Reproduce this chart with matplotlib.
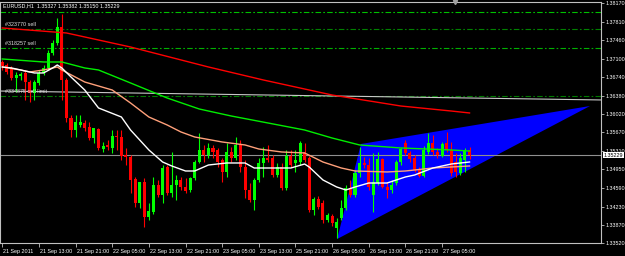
import matplotlib
matplotlib.use('Agg')
import matplotlib.pyplot as plt
import matplotlib.transforms as mtransforms
import numpy as np

plt.rcParams['font.family'] = ['Liberation Sans', 'DejaVu Sans']

header_text = "EURUSD,H1  1.35327 1.35382 1.35150 1.35229"

open_ = [1.37033, 1.36975, 1.36917, 1.36723, 1.36762, 1.36820, 1.36645, 1.36432, 1.36626, 1.36820,
         1.36917, 1.37207, 1.37401, 1.37711, 1.36684, 1.35948, 1.35715, 1.35812, 1.35851, 1.35773,
         1.35560, 1.35735, 1.35347, 1.35425, 1.35367, 1.35599, 1.35580, 1.35231, 1.35192, 1.34766,
         1.34301, 1.34708, 1.34030, 1.34127, 1.34650, 1.34456, 1.34998, 1.34495, 1.34650, 1.34747,
         1.34611, 1.34553, 1.34785, 1.35095, 1.35328, 1.35231, 1.35367, 1.35328, 1.35134, 1.34902,
         1.35289, 1.35173, 1.35425, 1.34998, 1.34553, 1.34359, 1.34747, 1.35076, 1.35173, 1.35173,
         1.34843, 1.34998, 1.34592, 1.35212, 1.35076, 1.35095, 1.35289, 1.35173, 1.34165, 1.34378,
         1.34301, 1.33972, 1.34049, 1.33817, 1.34010, 1.34204, 1.34592, 1.34456, 1.34882, 1.35076,
         1.35037, 1.34456, 1.34688, 1.35153, 1.34611, 1.34553, 1.34688, 1.35095, 1.35463, 1.35270,
         1.35173, 1.34940, 1.34824, 1.35289, 1.35463, 1.35289, 1.35212, 1.35463, 1.35328, 1.35095,
         1.34882, 1.35134, 1.35327]
high = [1.37072, 1.37013, 1.36955, 1.36839, 1.36839, 1.36878, 1.36684, 1.36684, 1.36878, 1.36975,
        1.37265, 1.37459, 1.37885, 1.37963, 1.36723, 1.36006, 1.36006, 1.36006, 1.35909, 1.35870,
        1.35715, 1.35754, 1.35483, 1.35522, 1.35715, 1.35715, 1.35715, 1.35367, 1.35231, 1.34805,
        1.34708, 1.34785, 1.34301, 1.34805, 1.34747, 1.35037, 1.35037, 1.35289, 1.34843, 1.34805,
        1.34785, 1.34805, 1.35134, 1.35657, 1.35425, 1.35463, 1.35425, 1.35367, 1.35173, 1.35463,
        1.35386, 1.35580, 1.35522, 1.35134, 1.34688, 1.34785, 1.35173, 1.35386, 1.35425, 1.35231,
        1.35076, 1.35076, 1.35328, 1.35328, 1.35328, 1.35502, 1.35463, 1.35212, 1.34417, 1.34437,
        1.34359, 1.34107, 1.34088, 1.34010, 1.34359, 1.34650, 1.34747, 1.34940, 1.35386, 1.35192,
        1.35173, 1.35270, 1.35289, 1.35173, 1.34708, 1.34747, 1.35134, 1.35367, 1.35522, 1.35308,
        1.35231, 1.34998, 1.35405, 1.35657, 1.35618, 1.35367, 1.35483, 1.35677, 1.35483, 1.35270,
        1.35270, 1.35367, 1.35382]
low = [1.36878, 1.36800, 1.36684, 1.36452, 1.36684, 1.36297, 1.36258, 1.36297, 1.36587, 1.36781,
       1.36878, 1.37168, 1.37362, 1.36297, 1.35870, 1.35580, 1.35580, 1.35773, 1.35696, 1.35522,
       1.35463, 1.35328, 1.35289, 1.35328, 1.35270, 1.35328, 1.35134, 1.35037, 1.34495, 1.34223,
       1.34204, 1.33836, 1.33972, 1.34088, 1.34417, 1.34301, 1.34456, 1.34417, 1.34359, 1.34553,
       1.34495, 1.34514, 1.34747, 1.35076, 1.35095, 1.35173, 1.35173, 1.34998, 1.34708, 1.34805,
       1.35095, 1.35134, 1.34902, 1.34398, 1.34320, 1.34165, 1.34708, 1.34805, 1.35095, 1.34805,
       1.34805, 1.34553, 1.34553, 1.34998, 1.34902, 1.35037, 1.35095, 1.34127, 1.34068, 1.34185,
       1.33913, 1.33933, 1.33855, 1.33623, 1.33972, 1.34165, 1.34417, 1.34417, 1.34805, 1.34979,
       1.34553, 1.34127, 1.34650, 1.34592, 1.34398, 1.34495, 1.34650, 1.35037, 1.35231, 1.35095,
       1.34902, 1.34805, 1.34805, 1.35250, 1.35231, 1.35173, 1.35192, 1.35289, 1.34824, 1.34805,
       1.34843, 1.34902, 1.35150]
close = [1.36955, 1.36839, 1.36723, 1.36781, 1.36800, 1.36645, 1.36432, 1.36645, 1.36820, 1.36917,
         1.37207, 1.37401, 1.37711, 1.36684, 1.35948, 1.35715, 1.35870, 1.35870, 1.35754, 1.35560,
         1.35754, 1.35367, 1.35405, 1.35386, 1.35599, 1.35580, 1.35212, 1.35192, 1.34747, 1.34301,
         1.34708, 1.34030, 1.34146, 1.34650, 1.34456, 1.34979, 1.34495, 1.34650, 1.34747, 1.34611,
         1.34533, 1.34785, 1.35095, 1.35328, 1.35231, 1.35367, 1.35289, 1.35095, 1.34902, 1.35289,
         1.35173, 1.35425, 1.34998, 1.34553, 1.34359, 1.34747, 1.35076, 1.35173, 1.35134, 1.34843,
         1.34998, 1.34592, 1.35212, 1.35037, 1.35134, 1.35463, 1.35134, 1.34165, 1.34378, 1.34223,
         1.33972, 1.34068, 1.33913, 1.33933, 1.34204, 1.34592, 1.34456, 1.34882, 1.35076, 1.35037,
         1.34611, 1.34708, 1.35153, 1.34611, 1.34553, 1.34650, 1.35095, 1.35347, 1.35270, 1.35153,
         1.34940, 1.34824, 1.35328, 1.35463, 1.35289, 1.35231, 1.35444, 1.35328, 1.34882, 1.34902,
         1.35173, 1.35328, 1.35229]

# moving averages (bar index, price)
ma_red_idx = [0, 14, 28, 45, 57, 72, 87, 98, 102]
ma_red = [1.37692, 1.37595, 1.37323, 1.36936, 1.36684, 1.36393, 1.36180, 1.36083, 1.36045]
ma_green_idx = [0, 9, 13, 18, 21, 28, 36, 43, 50, 58, 66, 72, 78, 87, 98, 102]
ma_green = [1.37091, 1.37033, 1.37033, 1.36917, 1.36878, 1.36626, 1.36335, 1.36122, 1.35986,
            1.35851, 1.35715, 1.35560, 1.35425, 1.35367, 1.35328, 1.35308]
ma_salmon_idx = [0, 4, 6, 9, 12, 13, 18, 24, 28, 32, 36, 39, 42, 48, 53, 56, 61, 66, 70, 74, 77, 84, 88, 94, 102]
ma_salmon = [1.36936, 1.36878, 1.36839, 1.36878, 1.36936, 1.36878, 1.36645, 1.36490, 1.36238, 1.35967,
             1.35812, 1.35677, 1.35580, 1.35483, 1.35425, 1.35347, 1.35289, 1.35270, 1.35095, 1.34979,
             1.34921, 1.34902, 1.34921, 1.34979, 1.35018]
ma_white_idx = [0, 2, 7, 9, 11, 12, 13, 15, 18, 21, 26, 28, 32, 35, 37, 40, 42, 45, 49, 53, 55, 59,
                63, 66, 67, 70, 73, 75, 77, 80, 84, 88, 90, 94, 98, 102]
ma_white = [1.36936, 1.36917, 1.36820, 1.36820, 1.36917, 1.36975, 1.36917, 1.36742, 1.36490, 1.36142,
            1.35967, 1.35715, 1.35328, 1.35095, 1.35018, 1.34921, 1.34921, 1.35037, 1.35076, 1.35076,
            1.34979, 1.34979, 1.34979, 1.35056, 1.34998, 1.34747, 1.34611, 1.34553, 1.34611, 1.34688,
            1.34688, 1.34805, 1.34843, 1.34979, 1.35056, 1.35095]

# objects
tri_idx = [73.1, 78.3, 128.3]
tri_price = [1.33603, 1.35444, 1.36180]
trend_idx = [-0.5, 130.7]
trend_price = [1.36470, 1.36297]
order_levels = [1.37996, 1.37672, 1.37298, 1.36380]
order_colors = ['#00C000', '#008000', '#00B000', '#007A00']
order_labels = ['', '#323770 sell', '#318257 sell', '#334875 sell limit']
bid_price = 1.35229

ytick_vals = [1.38170, 1.37810, 1.37460, 1.37100, 1.36740, 1.36380, 1.36020, 1.35670,
              1.35310, 1.34950, 1.34590, 1.34230, 1.33870, 1.33520]
xtick_idx = [0, 8, 16, 24, 32, 40, 48, 56, 64, 72, 80, 88, 96]
xtick_labels = ['21 Sep 2011', '21 Sep 13:00', '21 Sep 21:00', '22 Sep 05:00', '22 Sep 13:00',
                '22 Sep 21:00', '23 Sep 05:00', '23 Sep 13:00', '25 Sep 21:00', '26 Sep 05:00',
                '26 Sep 13:00', '26 Sep 21:00', '27 Sep 05:00']

FS = 3.9
W, H = 625, 256
fig = plt.figure(figsize=(W / 100, H / 100), dpi=100, facecolor='black')
ax = fig.add_axes([0, (H - 243.3) / H, 601 / W, 241.3 / H], facecolor='black')

o = np.array(open_); h = np.array(high); l = np.array(low); c = np.array(close)
idx = np.arange(len(c))

ax.fill(tri_idx, tri_price, color='#0000FF', lw=0, zorder=1)

for lev, col in zip(order_levels, order_colors):
    ax.axhline(lev, color=col, lw=0.8, dashes=(5, 2, 1.5, 2), zorder=2)
ax.plot(trend_idx, trend_price, color='#C8C8C8', lw=0.8, zorder=2)
ax.axhline(bid_price, color='#909090', lw=0.8, zorder=2)

up = c >= o
cols = np.where(up, '#00FF00', '#FF0000')
ax.vlines(idx, l, h, colors=cols, lw=0.8, zorder=4)
body_bot = np.minimum(o, c)
body_h = np.maximum(np.abs(c - o), 0.00004)
ax.bar(idx, body_h, bottom=body_bot, width=0.66, color=cols, lw=0, zorder=4)

ax.plot(ma_red_idx, ma_red, color='#FF0000', lw=1.0, zorder=5)
ax.plot(ma_green_idx, ma_green, color='#00EE00', lw=1.0, zorder=5)
ax.plot(ma_salmon_idx, ma_salmon, color='#FFA07A', lw=1.0, zorder=5)
ax.plot(ma_white_idx, ma_white, color='#FFFFFF', lw=1.0, zorder=5)

blend = mtransforms.blended_transform_factory(ax.transAxes, ax.transData)
for lev, lab in zip(order_levels, order_labels):
    if lab:
        ax.text(0.008, lev + 0.00035, lab, transform=blend, color='#E0E0E0',
                fontsize=FS, va='bottom', ha='left', zorder=6)

ax.set_xlim(-0.5, 130.7)
ax.set_ylim(1.33520, 1.38195)

ax.yaxis.tick_right()
ax.set_yticks(ytick_vals)
ax.set_yticklabels([f"{v:.5f}" for v in ytick_vals])
ax.tick_params(axis='y', colors='#C0C0C0', labelcolor='white', length=2, width=0.6,
               pad=1.0, labelsize=FS)
ax.set_xticks(xtick_idx)
ax.set_xticklabels(xtick_labels, ha='left')
ax.tick_params(axis='x', colors='#C0C0C0', labelcolor='white', length=3, width=0.6,
               pad=1.0, labelsize=FS)
offset = mtransforms.ScaledTranslation(1 / 100, 0, fig.dpi_scale_trans)
for lbl in ax.get_xticklabels():
    lbl.set_transform(lbl.get_transform() + offset)

for s in ax.spines.values():
    s.set_color('#C0C0C0')
    s.set_linewidth(0.8)

# current price box on the price axis
ax.text(1.005, bid_price, f"{bid_price:.5f}", transform=blend, color='black', fontsize=FS,
        va='center', ha='left', zorder=7, clip_on=False,
        bbox=dict(boxstyle='square,pad=0.12', fc='white', ec='white', lw=0))

# header
fig.text(3 / W, 1 - 5.5 / H, header_text, color='white', fontsize=FS, va='center', ha='left')

# chart shift marker
ax.plot([98.8], [1.0], marker='v', color='#A0A0A0', markersize=3,
        transform=mtransforms.blended_transform_factory(ax.transData, ax.transAxes),
        clip_on=False, zorder=8)

fig.savefig('out.png', dpi=100, facecolor='black')
